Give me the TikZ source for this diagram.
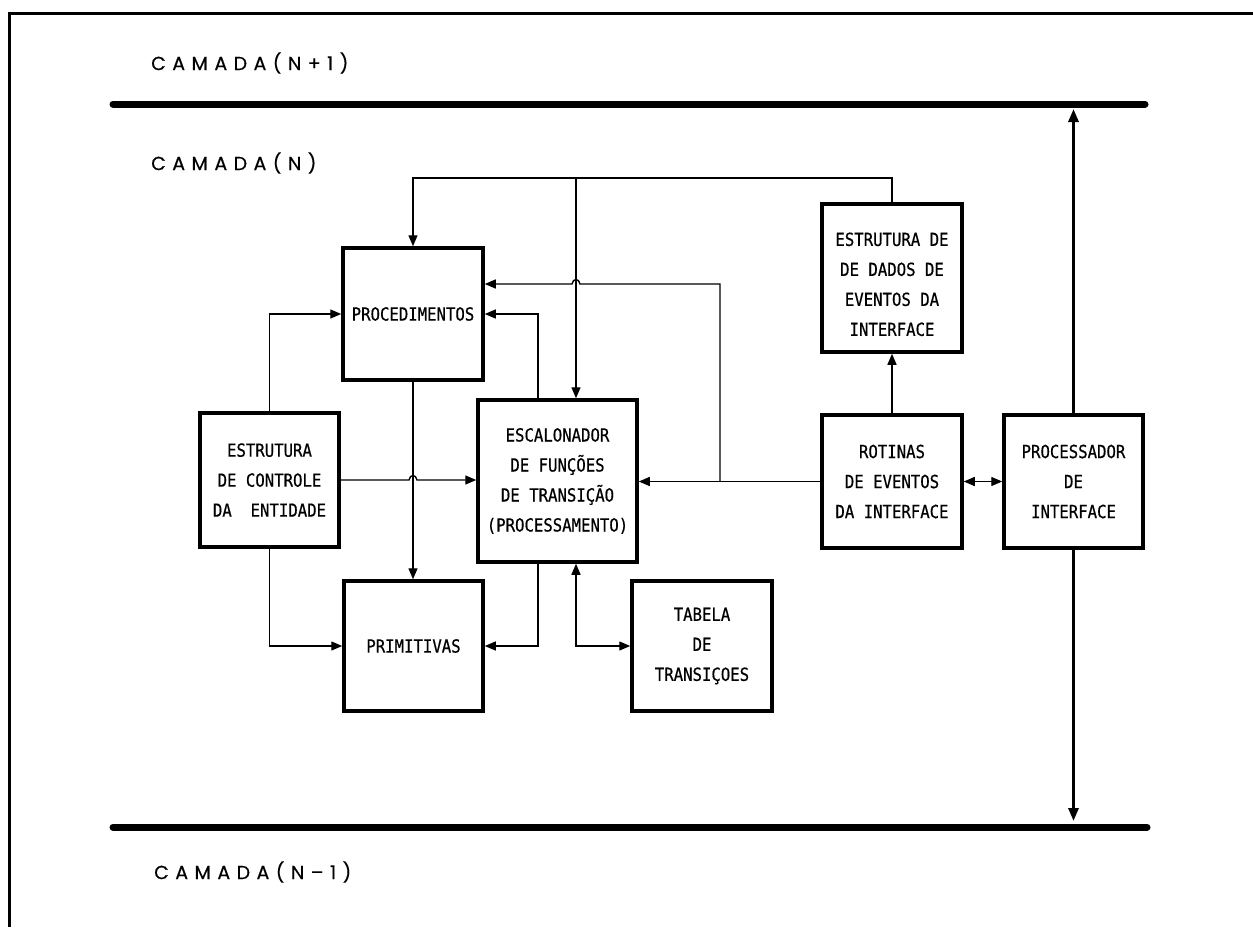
\documentclass[tikz,border=0pt]{standalone}
\usepackage{fontspec}
\usetikzlibrary{arrows.meta}
\newfontfamily\boxfont[FakeStretch=0.87,FakeBold=0.6]{DejaVu Sans Mono}
\newfontfamily\layerfont[LetterSpace=34,FakeBold=0.5]{Poppins}

\begin{document}
\begin{tikzpicture}[x=1pt,y=-1pt,
  blk/.style={draw,line width=3.5pt,align=center,inner sep=0pt,
    font=\boxfont\fontsize{18}{30}\selectfont},
  layer/.style={anchor=west,inner sep=0pt,font=\layerfont\fontsize{19}{22}\selectfont},
  conn/.style={line width=1.4pt},
  link/.style={line width=3pt},
  bus/.style={line width=7pt,line cap=round},
  arr/.style={-{Triangle[length=11pt,width=9pt]}},
  arrtwo/.style={{Triangle[length=11pt,width=9pt]}-{Triangle[length=11pt,width=9pt]}},
  arrbig/.style={-{Triangle[length=13pt,width=10pt]}}]
\useasboundingbox (0,0) rectangle (1253,927);

% outer frame
\draw[line width=3pt] (9,927) -- (9,13) -- (1253,13);

% layer names
\node[layer] (lup)  at (151,63)  {CAMADA(N+1)};
\node[layer] (lmid) at (151,163) {CAMADA(N)};
\node[layer] (llow) at (154,872) {CAMADA(N–1)};

% layer boundaries
\draw[bus] (113,104) coordinate (bt0) -- (1145,104) coordinate (bt1);
\draw[bus] (113,827) coordinate (bb0) -- (1147,827) coordinate (bb1);
\coordinate (ptop) at (1073,109);
\coordinate (pbot) at (1073,821);

% blocks
\node[blk,minimum width=140pt,minimum height=132pt] (proc) at (413,314) {PROCEDIMENTOS};
\node[blk,minimum width=139pt,minimum height=130pt] (prim) at (413.5,646) {PRIMITIVAS};
\node[blk,minimum width=159pt,minimum height=162pt] (esc) at (557.5,481)
  {ESCALONADOR\\DE FUNÇÕES\\DE TRANSIÇÃO\\(PROCESSAMENTO)};
\node[blk,minimum width=140pt,minimum height=130pt] (tab) at (702,646)
  {TABELA\\DE\\TRANSIÇOES};
\node[blk,minimum width=139pt,minimum height=134pt] (ctl) at (269.5,480)
  {ESTRUTURA\\DE CONTROLE\\DA\ \ ENTIDADE};
\node[blk,minimum width=140pt,minimum height=148pt] (dados) at (892,278)
  {\rule{0pt}{26pt}ESTRUTURA DE\\DE DADOS DE\\EVENTOS DA\\INTERFACE};
\node[blk,minimum width=140pt,minimum height=133pt] (rot) at (892,481.5)
  {ROTINAS\\DE EVENTOS\\DA INTERFACE};
\node[blk,minimum width=139pt,minimum height=133pt] (pint) at (1073.5,481.5)
  {PROCESSADOR\\DE\\INTERFACE};

% routing points
\coordinate (jtl) at (413,178);
\coordinate (jtm) at (576,178);
\coordinate (jr)  at (720,481);
\coordinate (jru) at (720,284);
\coordinate (xa)  at (538,0);
\coordinate (xb)  at (576,0);

% connections
\draw[conn,arr] (dados.north) |- (jtl) -- (proc.north);
\draw[conn,arr] (jtm) -- (jtm |- esc.north);
\draw[conn,arr] (rot.west) -- (rot.west -| esc.east);
\draw[conn,arr] (jr) -- (jru) -- (580,284) .. controls (579,278) and (573,278) .. (572,284)
  -- (jru -| proc.east);
\draw[conn,arr] (esc.north -| xa) |- (proc.east);
\draw[conn,arr] (esc.south -| xa) |- (prim.east);
\draw[conn,arrtwo] (tab.west) -| (esc.south -| xb);
\draw[conn,arr] (proc.south) -- (proc.south |- prim.north);
\draw[conn,arr] (ctl.north) |- (proc.west);
\draw[conn,arr] (ctl.east) -- (409,480) .. controls (410,474) and (416,474) .. (417,480)
  -- (ctl.east -| esc.west);
\draw[conn,arr] (ctl.south) |- (prim.west);
\draw[conn,arr] (rot.north) -- (dados.south);
\draw[conn,arrtwo] (rot.east) -- (pint.west);
\draw[link,arrbig] (pint.north) -- (pint.north |- ptop);
\draw[link,arrbig] (pint.south) -- (pint.south |- pbot);
\end{tikzpicture}
\end{document}
